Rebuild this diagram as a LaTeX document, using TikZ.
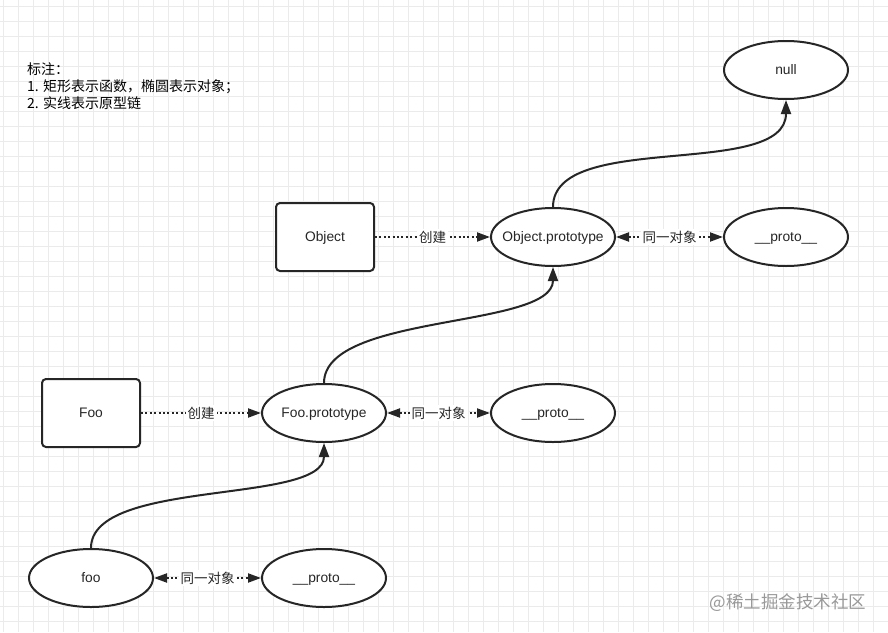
\documentclass[tikz,border=0pt]{standalone}
\usepackage{fontspec}
\setmainfont{Liberation Sans}
\newfontfamily\cjk{Noto Sans CJK SC}
\usetikzlibrary{arrows.meta,shapes.geometric}
\begin{document}
\begin{tikzpicture}[x=1pt,y=-1pt,
  every node/.style={font=\fontsize{13.8}{16}\selectfont,text=black!85},
  gridline/.style={draw=black!8,line width=0.8pt},
  fn/.style={draw=black!85,line width=2pt,rounded corners=4pt,minimum width=98pt,minimum height=68pt,fill=white,text height=9.5pt,text depth=0pt},
  obj/.style={draw=black!85,line width=2pt,ellipse,minimum width=124pt,minimum height=58pt,fill=white,inner xsep=-12pt,inner ysep=0pt,text height=9.5pt,text depth=0pt},
  link/.style={draw=black!85,line width=2pt,dash pattern=on 2pt off 2.4pt,-{Triangle[length=13pt,width=9pt]}},
  both/.style={link,{Triangle[length=13pt,width=9pt]}-{Triangle[length=13pt,width=9pt]}},
  lbl/.style={fill=white,inner sep=2pt,font=\cjk\fontsize{13.5}{15}\selectfont},
  chain/.style={draw=black!85,line width=2pt,-{Triangle[length=14pt,width=10pt]}}
]
\useasboundingbox (0,0) rectangle (888,632);
\fill[white] (0,0) rectangle (888,632);
\foreach \i in {0,...,59} \draw[gridline] (3+15*\i,0) -- (3+15*\i,632);
\foreach \j in {0,...,42} \draw[gridline] (0,6+15*\j) -- (888,6+15*\j);

% note
\node[anchor=north west,align=left,inner sep=0pt,text=black,font=\cjk\fontsize{14}{17.2}\selectfont] (note) at (27,62)
  {标注：\\1. 矩形表示函数，椭圆表示对象；\\2. 实线表示原型链};

% nodes
\node[fn] (object) at (325,237) {Object};
\node[obj] (op) at (553,237) {Object.prototype};
\node[obj] (p1) at (786,237) {\_\_proto\_\_};
\node[obj] (null) at (786,70) {null};
\node[fn] (foo) at (91,413) {Foo};
\node[obj] (fp) at (324,413) {Foo.prototype};
\node[obj] (p2) at (553,413) {\_\_proto\_\_};
\node[obj] (fooi) at (91,578) {foo};
\node[obj] (p3) at (324,578) {\_\_proto\_\_};

% dotted links
\draw[link] (object) -- node[lbl] (l1) {创建} (op);
\draw[both] (op) -- node[lbl] (l2) {同一对象} (p1);
\draw[link] (foo) -- node[lbl] (l3) {创建} (fp);
\draw[both] (fp) -- node[lbl] (l4) {同一对象} (p2);
\draw[both] (fooi) -- node[lbl] (l5) {同一对象} (p3);

% prototype chain
\draw[chain] (op.north) .. controls +(0,-77) and +(0,80) .. (null.south);
\draw[chain] (fp.north) .. controls +(0,-70) and +(0,62) .. (op.south);
\draw[chain] (fooi.north) .. controls +(0,-70) and +(0,62) .. (fp.south);

% watermark
\node[font=\cjk\fontsize{17.5}{19}\selectfont,text=black!40] (wm) at (788,603) {@稀土掘金技术社区};
\end{tikzpicture}
\end{document}
